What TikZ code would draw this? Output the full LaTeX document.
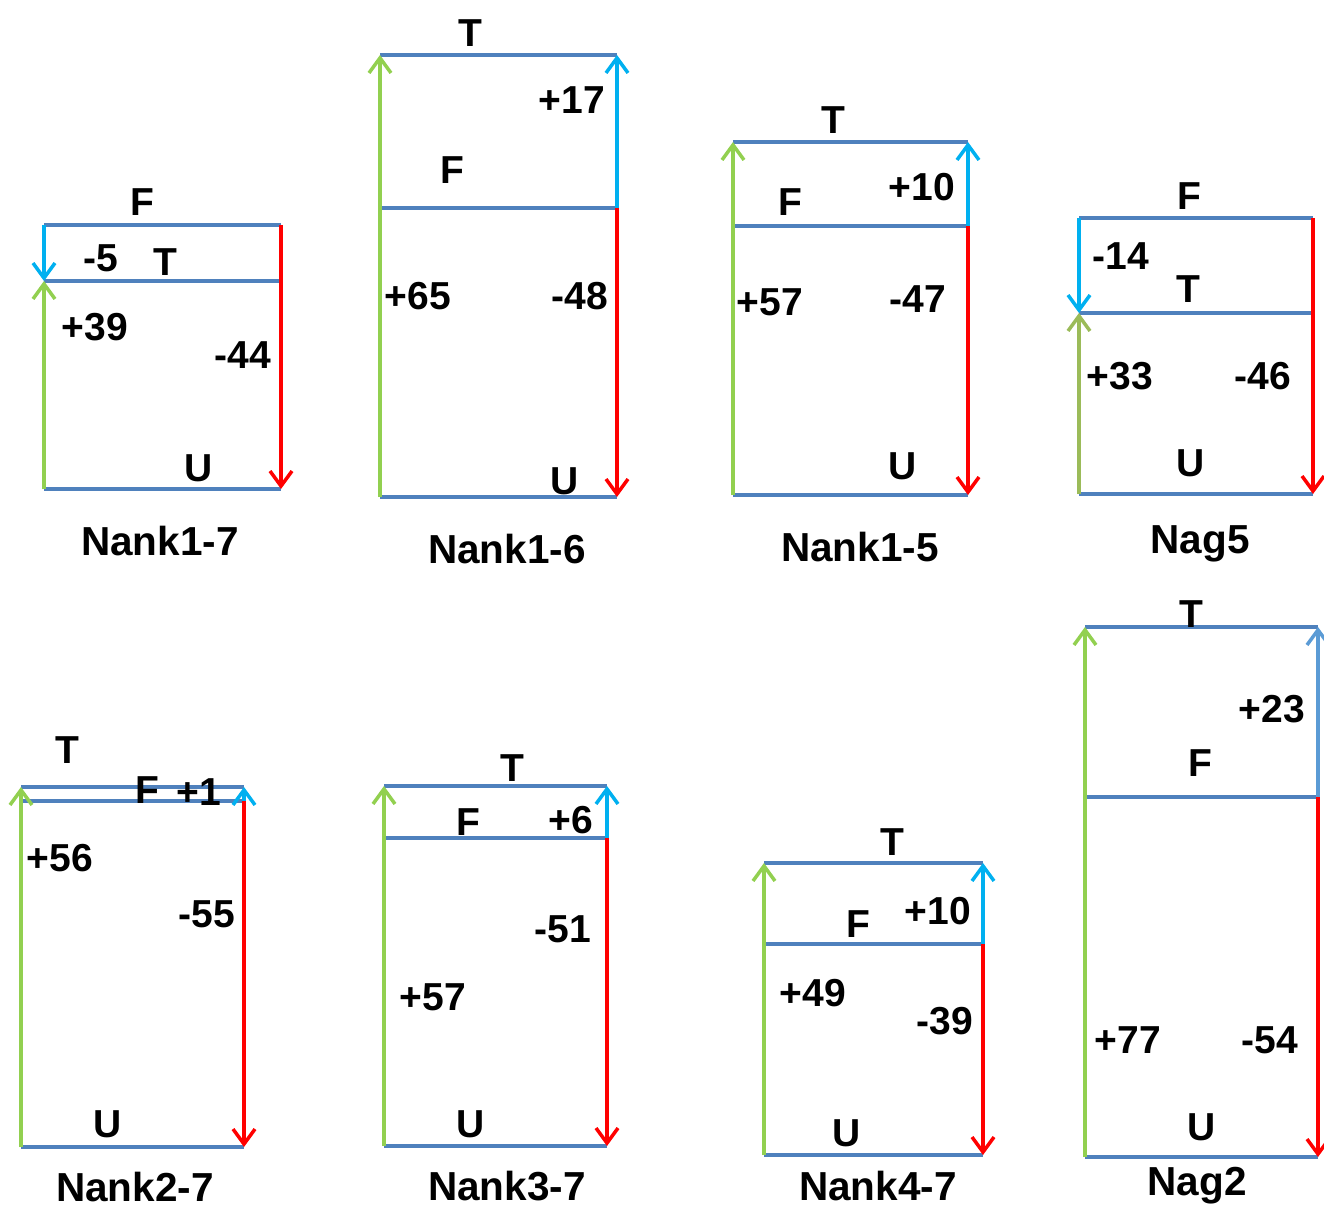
\documentclass[tikz,border=0pt]{standalone}
\usepackage{fontspec}
\setmainfont{Liberation Sans}
\usetikzlibrary{arrows.meta}
\definecolor{hblue}{HTML}{4F81BD}
\definecolor{agreen}{HTML}{92D050}
\definecolor{aolive}{HTML}{9BBB59}
\definecolor{acyan}{HTML}{00B0F0}
\definecolor{asteel}{HTML}{5B9BD5}
\definecolor{ared}{HTML}{FF0000}
\tikzset{
  hline/.style={draw=hblue,line width=4.5pt},
  varrow/.style={line width=4.5pt,-{Straight Barb[length=15pt,width=22pt,line width=3.5pt]}},
  garrow/.style={varrow,draw=agreen},
  oarrow/.style={varrow,draw=aolive},
  barrow/.style={varrow,draw=acyan},
  sarrow/.style={varrow,draw=asteel},
  rarrow/.style={varrow,draw=ared},
  lbl/.style={inner sep=0pt,font=\fontsize{39}{40}\selectfont\bfseries},
  captxt/.style={inner sep=0pt,font=\fontsize{40.5}{42}\selectfont\bfseries}
}
\begin{document}
\begin{tikzpicture}[x=1pt,y=-1pt]
\useasboundingbox (0,0) rectangle (1324,1209);
% ---------- Panel 1: Nank1-7
\coordinate (a1) at (44,225); \coordinate (b1) at (281,225);
\coordinate (c1) at (44,281); \coordinate (d1) at (281,281);
\coordinate (e1) at (44,489); \coordinate (f1) at (281,489);
\draw[hline] (a1) -- (b1); \draw[hline] (c1) -- (d1); \draw[hline] (e1) -- (f1);
\draw[barrow] (a1) -- (c1);
\draw[garrow] (e1) -- (c1);
\draw[rarrow] (b1) -- (f1);
\node[lbl] (p1F) at (142,202) {F};
\node[lbl] (p1m) at (101,258) {-5};
\node[lbl] (p1T) at (165,262) {T};
\node[lbl] (p1p) at (95,327) {+39};
\node[lbl] (p1n) at (243,355) {-44};
\node[lbl] (p1U) at (199,468) {U};
\node[captxt] (p1c) at (160,541) {Nank1-7};
% ---------- Panel 2: Nank1-6
\coordinate (a2) at (380,55); \coordinate (b2) at (617,55);
\coordinate (c2) at (380,208); \coordinate (d2) at (617,208);
\coordinate (e2) at (380,497); \coordinate (f2) at (617,497);
\draw[hline] (a2) -- (b2); \draw[hline] (c2) -- (d2); \draw[hline] (e2) -- (f2);
\draw[garrow] (e2) -- (a2);
\draw[barrow] (d2) -- (b2);
\draw[rarrow] (d2) -- (f2);
\node[lbl] (p2T) at (470,33) {T};
\node[lbl] (p2p1) at (572,100) {+17};
\node[lbl] (p2F) at (452,170) {F};
\node[lbl] (p2p) at (418,296) {+65};
\node[lbl] (p2n) at (580,296) {-48};
\node[lbl] (p2U) at (565,481) {U};
\node[captxt] (p2c) at (507,549) {Nank1-6};
% ---------- Panel 3: Nank1-5
\coordinate (a3) at (733,142); \coordinate (b3) at (968,142);
\coordinate (c3) at (733,226); \coordinate (d3) at (968,226);
\coordinate (e3) at (733,495); \coordinate (f3) at (968,495);
\draw[hline] (a3) -- (b3); \draw[hline] (c3) -- (d3); \draw[hline] (e3) -- (f3);
\draw[garrow] (e3) -- (a3);
\draw[barrow] (d3) -- (b3);
\draw[rarrow] (d3) -- (f3);
\node[lbl] (p3T) at (833,120) {T};
\node[lbl] (p3F) at (790,202) {F};
\node[lbl] (p3p1) at (922,187) {+10};
\node[lbl] (p3p) at (770,302) {+57};
\node[lbl] (p3n) at (918,299) {-47};
\node[lbl] (p3U) at (903,466) {U};
\node[captxt] (p3c) at (860,547) {Nank1-5};
% ---------- Panel 4: Nag5
\coordinate (a4) at (1079,218); \coordinate (b4) at (1313,218);
\coordinate (c4) at (1079,313); \coordinate (d4) at (1313,313);
\coordinate (e4) at (1079,494); \coordinate (f4) at (1313,494);
\draw[hline] (a4) -- (b4); \draw[hline] (c4) -- (d4); \draw[hline] (e4) -- (f4);
\draw[barrow] (a4) -- (c4);
\draw[oarrow] (e4) -- (c4);
\draw[rarrow] (b4) -- (f4);
\node[lbl] (p4F) at (1189,196) {F};
\node[lbl] (p4m) at (1121,256) {-14};
\node[lbl] (p4T) at (1188,289) {T};
\node[lbl] (p4p) at (1120,376) {+33};
\node[lbl] (p4n) at (1263,376) {-46};
\node[lbl] (p4U) at (1191,463) {U};
\node[captxt] (p4c) at (1200,544) {Nag5};
% ---------- Panel 5: Nank2-7
\coordinate (a5) at (21,787); \coordinate (b5) at (244,787);
\coordinate (c5) at (21,801); \coordinate (d5) at (244,801);
\coordinate (e5) at (21,1147); \coordinate (f5) at (244,1147);
\draw[hline] (a5) -- (b5); \draw[hline] (c5) -- (d5); \draw[hline] (e5) -- (f5);
\draw[garrow] (e5) -- (a5);
\draw[rarrow] (d5) -- (f5);
\draw[barrow] (d5) -- (b5);
\node[lbl] (p5T) at (67,750) {T};
\node[lbl] (p5F) at (147,790) {F};
\node[lbl] (p5p1) at (199,792) {+1};
\node[lbl] (p5p) at (60,858) {+56};
\node[lbl] (p5n) at (207,914) {-55};
\node[lbl] (p5U) at (108,1124) {U};
\node[captxt] (p5c) at (135,1187) {Nank2-7};
% ---------- Panel 6: Nank3-7
\coordinate (a6) at (384,786); \coordinate (b6) at (607,786);
\coordinate (c6) at (384,838); \coordinate (d6) at (607,838);
\coordinate (e6) at (384,1146); \coordinate (f6) at (607,1146);
\draw[hline] (a6) -- (b6); \draw[hline] (c6) -- (d6); \draw[hline] (e6) -- (f6);
\draw[garrow] (e6) -- (a6);
\draw[barrow] (d6) -- (b6);
\draw[rarrow] (d6) -- (f6);
\node[lbl] (p6T) at (512,768) {T};
\node[lbl] (p6F) at (468,822) {F};
\node[lbl] (p6p1) at (571,820) {+6};
\node[lbl] (p6n) at (563,929) {-51};
\node[lbl] (p6p) at (433,997) {+57};
\node[lbl] (p6U) at (471,1124) {U};
\node[captxt] (p6c) at (507,1186) {Nank3-7};
% ---------- Panel 7: Nank4-7
\coordinate (a7) at (764,863); \coordinate (b7) at (983,863);
\coordinate (c7) at (764,944); \coordinate (d7) at (983,944);
\coordinate (e7) at (764,1155); \coordinate (f7) at (983,1155);
\draw[hline] (a7) -- (b7); \draw[hline] (c7) -- (d7); \draw[hline] (e7) -- (f7);
\draw[garrow] (e7) -- (a7);
\draw[barrow] (d7) -- (b7);
\draw[rarrow] (d7) -- (f7);
\node[lbl] (p7T) at (892,842) {T};
\node[lbl] (p7F) at (858,924) {F};
\node[lbl] (p7p1) at (938,911) {+10};
\node[lbl] (p7p) at (813,993) {+49};
\node[lbl] (p7n) at (945,1021) {-39};
\node[lbl] (p7U) at (847,1133) {U};
\node[captxt] (p7c) at (878,1186) {Nank4-7};
% ---------- Panel 8: Nag2
\coordinate (a8) at (1085,627); \coordinate (b8) at (1318,627);
\coordinate (c8) at (1085,797); \coordinate (d8) at (1318,797);
\coordinate (e8) at (1085,1157); \coordinate (f8) at (1318,1157);
\draw[hline] (a8) -- (b8); \draw[hline] (c8) -- (d8); \draw[hline] (e8) -- (f8);
\draw[garrow] (e8) -- (a8);
\draw[sarrow] (d8) -- (b8);
\draw[rarrow] (d8) -- (f8);
\node[lbl] (p8T) at (1191,614) {T};
\node[lbl] (p8p1) at (1272,709) {+23};
\node[lbl] (p8F) at (1200,763) {F};
\node[lbl] (p8p) at (1128,1040) {+77};
\node[lbl] (p8n) at (1270,1040) {-54};
\node[lbl] (p8U) at (1202,1127) {U};
\node[captxt] (p8c) at (1197,1186) {Nag2};
\end{tikzpicture}
\end{document}
